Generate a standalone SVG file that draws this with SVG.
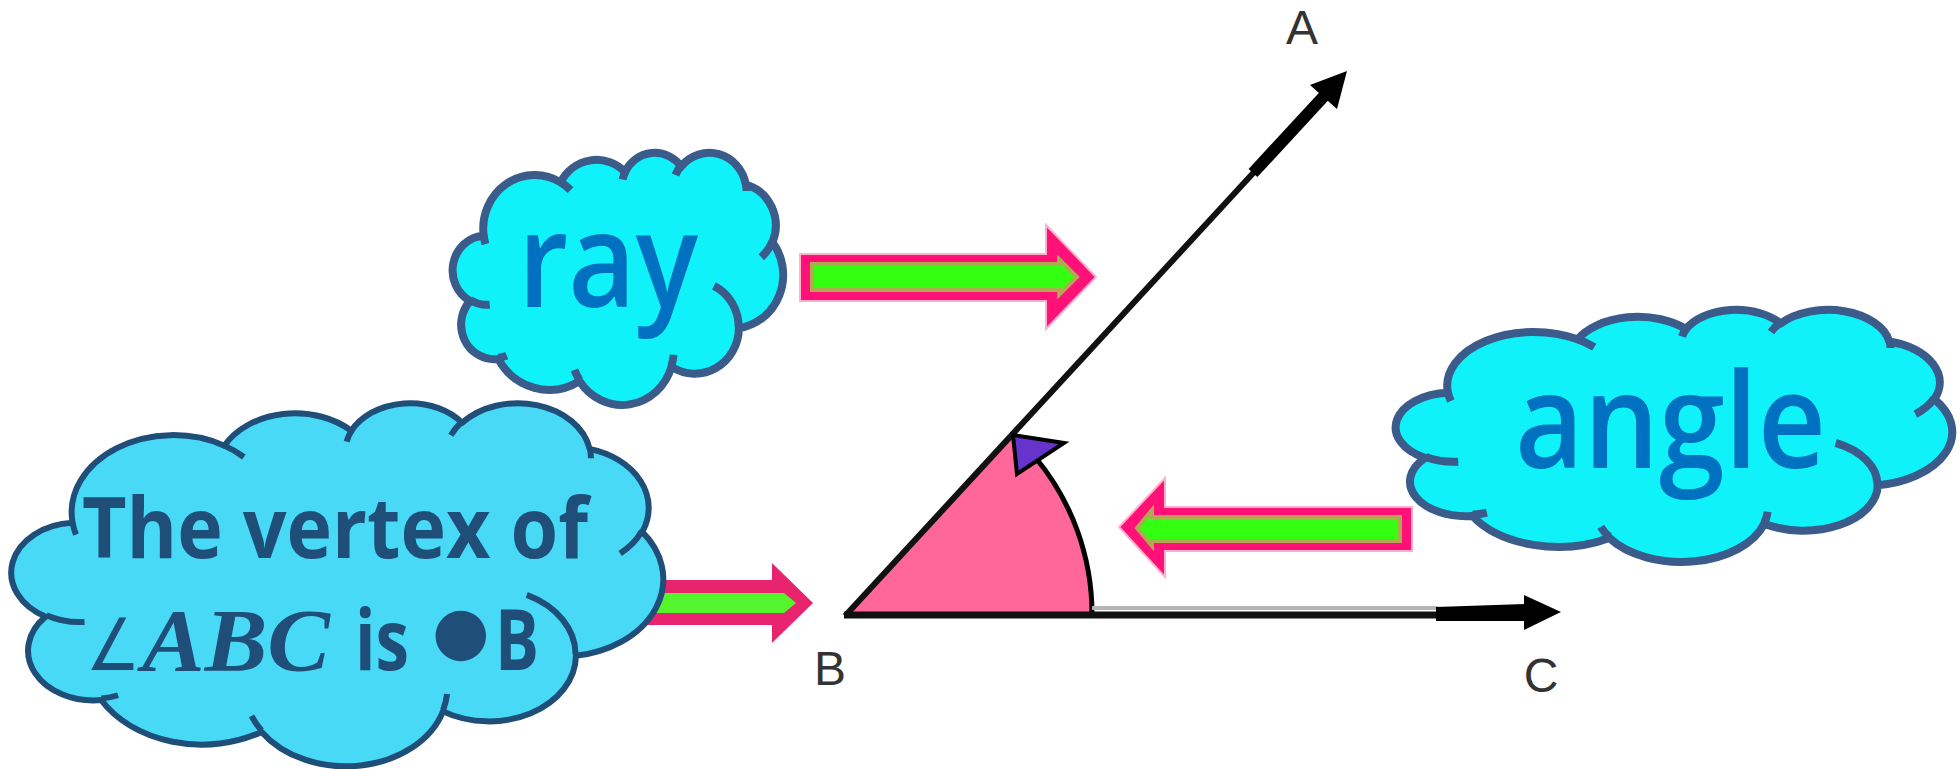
<svg xmlns="http://www.w3.org/2000/svg" xmlns:xlink="http://www.w3.org/1999/xlink" width="1960" height="769" viewBox="0 0 1960 769">
<style>
.cl-out{vector-effect:non-scaling-stroke;stroke-linejoin:round}
.cl-in{fill:none;vector-effect:non-scaling-stroke;stroke-linecap:butt}
.small-shape{fill:#10F2FA;stroke:#3B5B8B;stroke-width:8}
.big-shape{fill:#47D9F5;stroke:#1F4E79;stroke-width:6}
.word{font-family:"Open Sans",Lato,"Liberation Sans",sans-serif;font-weight:600;font-size:132px;fill:#0070C0}
.bold{font-family:"Open Sans",Lato,"Liberation Sans",sans-serif;font-weight:bold;font-size:84px;fill:#1F4E79}
.lbl{font-family:"Liberation Sans",Arial,sans-serif;font-size:48px;fill:#333;text-anchor:middle}
.pk1{fill:#FF1177;stroke:#FFB0CC;stroke-width:2}
.gr1{fill:#33FF11;stroke:#B3A852;stroke-width:4;stroke-linejoin:miter}
</style>
<defs>
<path id="cloudOut" class="cl-out" d="M3900 14370A6753 9190 0 0 1 14004 5201A5333 7267 0 0 1 22456 3433A4365 5945 0 0 1 29833 2481A4857 6595 0 0 1 38318 5576A5333 7273 0 0 1 41818 15460A6775 9220 0 0 1 37405 30204A5785 7867 0 0 1 28556 36814A6752 9215 0 0 1 16481 39266A7720 10543 0 0 1 5804 35471A4360 5918 0 0 1 2113 25548A4345 5945 0 0 1 3900 14370Z"/>
<path id="cloudIn" class="cl-in" d="M4693 26177A4345 5945 0 0 1 2159 25379M6928 34899A4360 5918 0 0 1 5819 35281M16478 39090A6752 9215 0 0 1 15810 37349M28827 34751A6752 9215 0 0 1 28560 36660M34129 22954A5785 7867 0 0 1 37380 30090M41798 15354A5333 7273 0 0 1 40349 18031M38324 5426A4857 6595 0 0 1 38400 6690M29078 3952A4857 6595 0 0 1 29820 2340M22141 4720A4365 5945 0 0 1 22500 3330M14000 5192A6753 9190 0 0 1 15303 6544M4127 15789A6753 9190 0 0 1 3900 14370"/>
</defs>

<g id="connectors">
  <g id="arrow-vertex">
    <polygon points="600,580 772,580 772,563 813,603 772,643 772,625 600,625" fill="#E8246E"/>
    <polygon points="600,593 784,593 796,603 784,613 600,613" fill="#55F52E"/>
  </g>
  <g id="arrow-ray">
    <polygon class="pk1" points="800,254 1046,254 1046,225 1096,277 1046,329 1046,301 800,301"/>
    <polygon class="gr1" points="812,264 1059,264 1059,259 1077,277 1059,295 1059,290 812,290"/>
  </g>
  <g id="arrow-angle">
    <polygon class="pk1" points="1412,507 1165,507 1165,478 1119,527 1165,577 1165,551 1412,551"/>
    <polygon class="gr1" points="1400,517 1152,517 1152,510 1137,528 1152,546 1152,541 1400,541"/>
  </g>
</g>

<g id="angle-figure">
  <path d="M847 614L1013 434A245 245 0 0 1 1092 614Z" fill="#FF6699"/>
  <path d="M1035 457A245 245 0 0 1 1092 614" fill="none" stroke="#000" stroke-width="5"/>
  <line x1="1092" y1="608" x2="1438" y2="608" stroke="#B5B5B5" stroke-width="4"/>
  <line x1="844" y1="615" x2="1440" y2="615" stroke="#111" stroke-width="7"/>
  <polygon points="1436,607 1525,604 1525,621 1436,621" fill="#000"/>
  <polygon points="1524,595 1561,612 1524,630" fill="#000"/>
  <line x1="845" y1="616" x2="1256" y2="170" stroke="#111" stroke-width="6"/>
  <line x1="1253" y1="173" x2="1326" y2="94" stroke="#000" stroke-width="12"/>
  <polygon points="1347,71 1310,85 1337,109" fill="#000"/>
  <polygon points="1013,435 1064,443 1017,474" fill="#6633CC" stroke="#000" stroke-width="4"/>
</g>

<g id="labels">
  <text class="lbl" x="1302" y="44">A</text>
  <text class="lbl" x="830" y="685">B</text>
  <text class="lbl" x="1541" y="692">C</text>
</g>

<g id="cloud-ray">
  <g class="small-shape" transform="translate(454,152) scale(0.0076157,0.0058333)">
    <use xlink:href="#cloudOut"/>
    <use xlink:href="#cloudIn"/>
  </g>
  <text class="word" x="518" y="307" textLength="180" lengthAdjust="spacingAndGlyphs">ray</text>
</g>

<g id="cloud-angle">
  <g class="small-shape" transform="translate(1398,309) scale(0.012824,0.0058333)">
    <use xlink:href="#cloudOut"/>
    <use xlink:href="#cloudIn"/>
  </g>
  <text class="word" x="1515" y="468" textLength="311" lengthAdjust="spacingAndGlyphs">angle</text>
</g>

<g id="cloud-vertex">
  <g class="big-shape" transform="translate(14,402) scale(0.015023,0.0084028)">
    <use xlink:href="#cloudOut"/>
    <use xlink:href="#cloudIn"/>
  </g>
  <text class="bold" x="82" y="558" textLength="506" lengthAdjust="spacingAndGlyphs">The vertex of</text>
  <text class="bold" y="670">
    <tspan x="86" font-family="'DejaVu Sans',sans-serif" font-weight="normal" font-size="72" textLength="54" lengthAdjust="spacingAndGlyphs">∠</tspan><tspan x="142" font-family="'Liberation Serif',serif" font-style="italic" font-size="89" textLength="188" lengthAdjust="spacingAndGlyphs">ABC</tspan><tspan x="355" textLength="54" lengthAdjust="spacingAndGlyphs">is</tspan><tspan x="432" y="653" font-family="'DejaVu Sans',sans-serif" font-weight="normal" font-size="66">●</tspan><tspan x="495" y="670" textLength="44" lengthAdjust="spacingAndGlyphs">B</tspan>
  </text>
</g>
</svg>
